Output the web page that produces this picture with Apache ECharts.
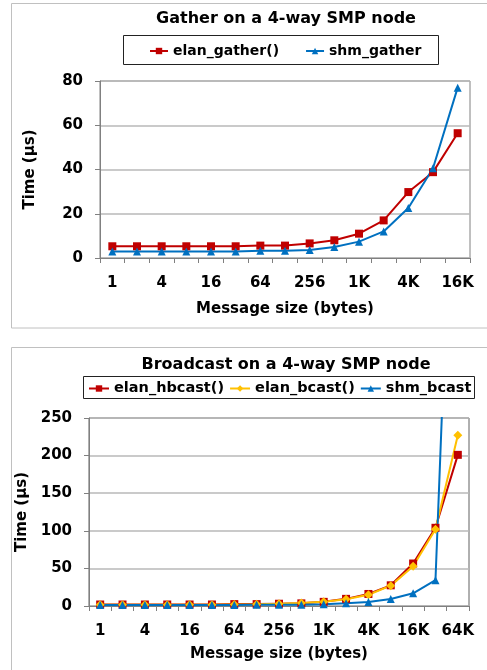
<!DOCTYPE html>
<html><head><meta charset="utf-8">
<script src="https://cdn.jsdelivr.net/npm/echarts@6/dist/echarts.min.js"></script>
<style>html,body{margin:0;padding:0;background:#fff}#c{width:487px;height:670px}</style>
</head><body><div id="c"></div>
<script>
// ---- Data ----
const gatherCats = ['1','2','4','8','16','32','64','128','256','512','1K','2K','4K','8K','16K'];
const elanGather = [5.3, 5.3, 5.3, 5.3, 5.3, 5.3, 5.6, 5.6, 6.6, 8.0, 11.0, 17.0, 29.8, 38.8, 56.4];
const shmGather  = [2.9, 2.9, 2.9, 2.9, 2.9, 2.9, 3.3, 3.3, 3.6, 5.0, 7.4, 12.0, 22.6, 40.6, 77.0];

const bcastCats = ['1','2','4','8','16','32','64','128','256','512','1K','2K','4K','8K','16K','32K','64K'];
const elanHbcast = [2.0, 2.0, 2.0, 2.0, 2.0, 2.0, 2.5, 2.5, 3.0, 3.5, 5.5, 9.5, 16.0, 27.5, 56.5, 104, 201];
const elanBcast  = [1.8, 1.8, 1.8, 1.8, 1.8, 1.8, 2.0, 2.2, 3.0, 4.0, 5.5, 9.0, 15.0, 27.0, 53.0, 102, 227];
const shmBcast   = [1.2, 1.2, 1.2, 1.2, 1.2, 1.3, 1.4, 1.5, 1.6, 1.8, 2.2, 3.6, 5.3, 9.3, 16.9, 34.3, 800];

const F = 'DejaVu Sans';
const RED = '#C00000', BLUE = '#0070C0', YEL = '#FFC000';

function xAx(cats, gridIndex, gap) {
  return {
    type: 'category', data: cats, gridIndex, boundaryGap: true,
    name: 'Message size (bytes)', nameLocation: 'middle', nameGap: gap,
    nameTextStyle: {fontFamily: F, fontWeight: 'bold', fontSize: 15, color: '#000'},
    axisLine: {lineStyle: {color: '#808080', width: 1}},
    axisTick: {show: true, interval: 0, length: 5, lineStyle: {color: '#808080'}},
    axisLabel: {interval: 1, margin: 18, fontFamily: F, fontWeight: 'bold', fontSize: 15, color: '#000'},
    splitLine: {show: false}
  };
}
function yAx(max, interval, gridIndex, gap) {
  return {
    type: 'value', min: 0, max, interval, gridIndex,
    name: 'Time (µs)', nameLocation: 'middle', nameGap: gap, nameRotate: 90,
    nameTextStyle: {fontFamily: F, fontWeight: 'bold', fontSize: 15, color: '#000'},
    axisLine: {show: true, lineStyle: {color: '#808080', width: 1}},
    axisTick: {show: true, length: 5, lineStyle: {color: '#808080'}},
    axisLabel: {margin: 17, fontFamily: F, fontWeight: 'bold', fontSize: 15, color: '#000'},
    splitLine: {show: true, lineStyle: {color: '#b8b8b8', width: 1.5}}
  };
}
function ln(name, data, color, symbol, size, xi) {
  return {
    name, type: 'line', data, xAxisIndex: xi, yAxisIndex: xi,
    symbol, symbolSize: size, showSymbol: true, clip: true,
    lineStyle: {color, width: 2}, itemStyle: {color},
    emphasis: {disabled: true}, animation: false, z: 3
  };
}

const chart = echarts.init(document.getElementById('c'), null, {renderer: 'canvas'});
chart.setOption({
  animation: false,
  backgroundColor: '#fff',
  title: [
    {text: 'Gather on a 4-way SMP node', left: 281, top: 6, textAlign: 'center',
     textStyle: {fontFamily: F, fontWeight: 'bold', fontSize: 16, color: '#000'}},
    {text: 'Broadcast on a 4-way SMP node', left: 281, top: 352, textAlign: 'center',
     textStyle: {fontFamily: F, fontWeight: 'bold', fontSize: 16, color: '#000'}}
  ],
  legend: [
    {data: ['elan_gather()', 'shm_gather'], left: 149, top: 44, itemGap: 26,
     itemWidth: 18, itemHeight: 8, padding: 0,
     textStyle: {fontFamily: F, fontWeight: 'bold', fontSize: 14, color: '#000'}},
    {data: ['elan_hbcast()', 'elan_bcast()', 'shm_bcast'], left: 88, top: 381, itemGap: 5,
     itemWidth: 20, itemHeight: 8, padding: 0,
     textStyle: {fontFamily: F, fontWeight: 'bold', fontSize: 14.5, color: '#000'}}
  ],
  grid: [
    {left: 100, top: 81, width: 370, height: 177, show: true, borderColor: '#808080', borderWidth: 1, backgroundColor: 'transparent'},
    {left: 89, top: 418, width: 380, height: 188, show: true, borderColor: '#606060', borderWidth: 1, backgroundColor: 'transparent'}
  ],
  xAxis: [xAx(gatherCats, 0, 44), xAx(bcastCats, 1, 41)],
  yAxis: [yAx(80, 20, 0, 62), yAx(250, 50, 1, 56)],
  series: [
    ln('elan_gather()', elanGather, RED, 'rect', 8, 0),
    ln('shm_gather', shmGather, BLUE, 'triangle', 8, 0),
    ln('elan_hbcast()', elanHbcast, RED, 'rect', 8, 1),
    ln('elan_bcast()', elanBcast, YEL, 'diamond', 9, 1),
    ln('shm_bcast', shmBcast, BLUE, 'triangle', 8, 1)
  ],
  graphic: [
    {type: 'rect', shape: {x: 11.5, y: 3.5, width: 490, height: 324.5}, style: {fill: 'none', stroke: '#c0c0c0', lineWidth: 1}, silent: true},
    {type: 'rect', shape: {x: 11.5, y: 347.5, width: 490, height: 340}, style: {fill: 'none', stroke: '#c0c0c0', lineWidth: 1}, silent: true},
    {type: 'rect', shape: {x: 123.5, y: 35.5, width: 315, height: 29}, style: {fill: 'none', stroke: '#222', lineWidth: 1}, silent: true},
    {type: 'rect', shape: {x: 83.5, y: 376.5, width: 391, height: 22}, style: {fill: 'none', stroke: '#222', lineWidth: 1}, silent: true}
  ]
});
</script></body></html>
